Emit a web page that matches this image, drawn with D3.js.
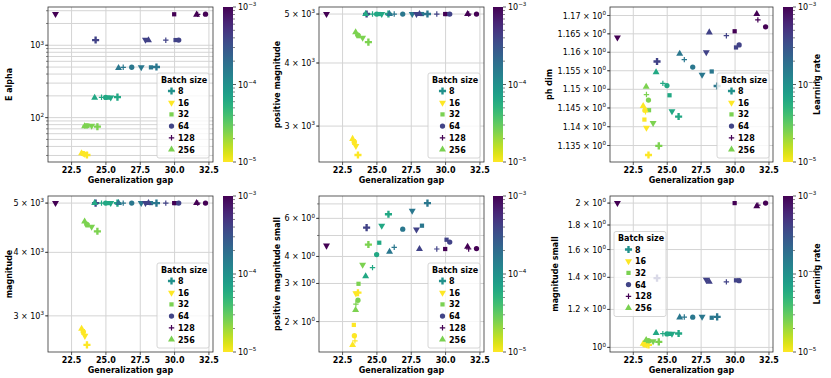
<!DOCTYPE html>
<html>
<head>
<meta charset="utf-8">
<script src="https://cdn.jsdelivr.net/npm/d3@7"></script>
<style>
  body { margin: 0; background: #fff; }
  text { font-family: "DejaVu Sans", sans-serif; font-weight: bold; font-size: 8px; fill: #000; }
  text.math { font-weight: normal; }
</style>
</head>
<body>
<script>
// ---- data (one entry per run, grouped by learning rate, then batch size) ----
var batchSizes = [8, 16, 32, 64, 128, 256];
var learningRates = [1e-5, 2.5e-5, 6.3e-5, 1.6e-4, 4e-4, 1e-3];

var runBatch = [8, 16, 32, 64, 128, 256,
                8, 16, 32, 64, 128, 256,
                8, 16, 32, 64, 128, 256,
                8, 16, 32, 64, 128, 256,
                8, 16, 32, 64, 128, 256,
                   16, 32, 64, 128, 256];
var runLr = [1e-5, 1e-5, 1e-5, 1e-5, 1e-5, 1e-5,
             2.5e-5, 2.5e-5, 2.5e-5, 2.5e-5, 2.5e-5, 2.5e-5,
             6.3e-5, 6.3e-5, 6.3e-5, 6.3e-5, 6.3e-5, 6.3e-5,
             1.6e-4, 1.6e-4, 1.6e-4, 1.6e-4, 1.6e-4, 1.6e-4,
             4e-4, 4e-4, 4e-4, 4e-4, 4e-4, 4e-4,
                   1e-3, 1e-3, 1e-3, 1e-3, 1e-3];
var genGap = [23.62, 23.47, 23.32, 23.36, 23.40, 23.23,
              24.38, 23.96, 23.66, 23.62, 23.47, 23.45,
              25.84, 25.35, 25.17, 24.98, 24.68, 24.18,
              28.68, 27.57, 28.28, 26.88, 26.26, 25.92,
              24.25, 27.88, 30.07, 30.30, 29.36, 28.10,
                     21.33, 29.97, 32.25, 31.68, 31.60];
var eAlpha = [30.5, 31.5, 32, 31.8, 31.2, 32.2,
              75, 77, 77.5, 77, 76.5, 76,
              192, 190, 189, 190, 191, 188,
              500, 498, 495, 497, 496, 485,
              1180, 1190, 1180, 1180, 1175, 1170,
                    2700, 2680, 2690, 2670, 2650];
var positiveMagnitude = [2630, 2740, 2800, 2790, 2760, 2830,
                         4400, 4490, 4520, 4540, 4580, 4600,
                         5000, 5000, 5000, 5000, 5000, 5000,
                         5000, 5000, 5000, 5000, 5000, 5000,
                         5000, 5000, 5000, 5000, 5000, 5000,
                               5000, 5000, 5000, 5000, 5000];
var magnitude = [2630, 2740, 2800, 2790, 2760, 2830,
                 4400, 4490, 4520, 4540, 4580, 4600,
                 5000, 5000, 5000, 5000, 5000, 5000,
                 5000, 5000, 5000, 5000, 5000, 5000,
                 5000, 5000, 5000, 5000, 5000, 5000,
                       5000, 5000, 5000, 5000, 5000];
var phDim = [1.1325, 1.1397, 1.1419, 1.1444, 1.1440, 1.1455,
             1.1349, 1.1410, 1.1444, 1.1471, 1.1486, 1.1507,
             1.1427, 1.1441, 1.1484, 1.1510, 1.1516, 1.1546,
             1.1509, 1.1539, 1.1548, 1.1560, 1.1580, 1.1596,
             1.1575, 1.1600, 1.1613, 1.1620, 1.1645, 1.1654,
                     1.1640, 1.1657, 1.1669, 1.1688, 1.1704];
var positiveMagnitudeSmall = [2.72, 2.70, 1.93, 1.72, 1.63, 1.56,
                              4.54, 3.66, 2.99, 2.51, 2.41, 2.26,
                              6.27, 5.55, 4.63, 4.08, 3.55, 3.24,
                              7.06, 6.50, 5.55, 5.35, 4.41, 4.21,
                              5.44, 5.33, 4.78, 4.66, 4.33, 4.33,
                                    4.49, 4.33, 4.35, 4.33, 4.44];
var magnitudeSmall = [1.012, 1.014, 1.015, 1.012, 1.016, 1.018,
                      1.027, 1.030, 1.031, 1.033, 1.034, 1.036,
                      1.069, 1.068, 1.067, 1.067, 1.068, 1.071,
                      1.158, 1.158, 1.153, 1.156, 1.157, 1.155,
                      1.395, 1.384, 1.380, 1.378, 1.370, 1.370,
                             2.00, 2.00, 2.00, 1.98, 1.97];

// ---- ticks ("a^b" is drawn with b raised) ----
var xTicks = [22.5, 25, 27.5, 30, 32.5];
var eAlphaTicks = [100, 1000];
var eAlphaTickLabels = ["10^2", "10^3"];
var eAlphaGrid = [20, 30, 40, 50, 60, 70, 80, 90, 100, 200, 300, 400, 500, 600, 700, 800, 900, 1000, 2000, 3000];
var magTicks = [3000, 4000, 5000];
var magTickLabels = ["3 × 10^3", "4 × 10^3", "5 × 10^3"];
var phTicks = [1.135, 1.14, 1.145, 1.15, 1.155, 1.16, 1.165, 1.17];
var phTickLabels = ["1.135 × 10^0", "1.14 × 10^0", "1.145 × 10^0", "1.15 × 10^0", "1.155 × 10^0", "1.16 × 10^0", "1.165 × 10^0", "1.17 × 10^0"];
var pmsTicks = [2, 3, 4, 6];
var pmsTickLabels = ["2 × 10^0", "3 × 10^0", "4 × 10^0", "6 × 10^0"];
var pmsGrid = [2, 3, 4, 5, 6, 7];
var msTicks = [1, 1.2, 1.4, 1.6, 1.8, 2];
var msTickLabels = ["10^0", "1.2 × 10^0", "1.4 × 10^0", "1.6 × 10^0", "1.8 × 10^0", "2 × 10^0"];
var cbTicks = [1e-5, 1e-4, 1e-3];
var cbTickLabels = ["10^−5", "10^−4", "10^−3"];
var cbMinor = [2e-5, 3e-5, 4e-5, 5e-5, 6e-5, 7e-5, 8e-5, 9e-5, 2e-4, 3e-4, 4e-4, 5e-4, 6e-4, 7e-4, 8e-4, 9e-4];

// ---- layout ----
var width = 831, height = 378;
var cols = [
  { x0: 48, x1: 213, cb: 223 },
  { x0: 319, x1: 484, cb: 493 },
  { x0: 610, x1: 773, cb: 783 }
];
var rows = [{ y0: 7, y1: 162 }, { y0: 196, y1: 352 }];

var svg = d3.select("body").append("svg")
  .attr("width", width)
  .attr("height", height);

var color = d3.scaleLog().domain([1e-3, 1e-5]).range([0, 1]).clamp(true);
function lrColor(lr) { return d3.interpolateViridis(color(lr)); }

// legend colours of the batch size handles
var legendColors = ["#21918c", "#fde725", "#7ad151", "#414487", "#440154", "#7ad151"];

var plusPath = "M-2.7,0H2.7M0,-2.7V2.7";
function markerPath(bs) {
  if (bs === 8) return d3.symbol(d3.symbolCross, 28)();
  if (bs === 16) return d3.symbol(d3.symbolTriangle, 21)();
  if (bs === 32) return d3.symbol(d3.symbolSquare, 18)();
  if (bs === 64) return d3.symbol(d3.symbolCircle, 22)();
  if (bs === 128) return plusPath;
  return d3.symbol(d3.symbolTriangle, 21)();
}
function drawMarker(g, bs, cx, cy, fill) {
  var p = g.append("path")
    .attr("d", markerPath(bs))
    .attr("transform", "translate(" + cx + "," + cy + ")" + (bs === 16 ? " rotate(180)" : ""));
  if (bs === 128) p.attr("fill", "none").attr("stroke", fill).attr("stroke-width", 1.2);
  else p.attr("fill", fill);
}

// text with an optional raised exponent
function mathText(sel, s) {
  var parts = s.split("^");
  sel.classed("math", true);
  sel.append("tspan").text(parts[0]);
  if (parts.length > 1) {
    sel.append("tspan").attr("dy", -3.6).attr("font-size", "5.6px").text(parts[1]);
  }
  return sel;
}

function logDomain(vals) {
  var e = d3.extent(vals).map(Math.log10);
  var m = (e[1] - e[0]) * 0.05;
  return [Math.pow(10, e[0] - m), Math.pow(10, e[1] + m)];
}
var gx = d3.extent(genGap);
var xm = (gx[1] - gx[0]) * 0.05;
var xDomain = [gx[0] - xm, gx[1] + xm];

var panels = [
  { row: 0, col: 0, values: eAlpha, label: "E alpha", ticks: eAlphaTicks, tickLabels: eAlphaTickLabels, grid: eAlphaGrid, labelX: 9, legend: "lr" },
  { row: 0, col: 1, values: positiveMagnitude, label: "positive magnitude", ticks: magTicks, tickLabels: magTickLabels, grid: magTicks, labelX: 277, legend: "lr" },
  { row: 0, col: 2, values: phDim, label: "ph dim", ticks: phTicks, tickLabels: phTickLabels, grid: phTicks, labelX: 549, legend: "lr" },
  { row: 1, col: 0, values: magnitude, label: "magnitude", ticks: magTicks, tickLabels: magTickLabels, grid: magTicks, labelX: 9, legend: "lr" },
  { row: 1, col: 1, values: positiveMagnitudeSmall, label: "positive magnitude small", ticks: pmsTicks, tickLabels: pmsTickLabels, grid: pmsGrid, labelX: 277, legend: "lr" },
  { row: 1, col: 2, values: magnitudeSmall, label: "magnitude small", ticks: msTicks, tickLabels: msTickLabels, grid: msTicks, labelX: 555, legend: "cl" }
];

// gradient for the colorbars
var defs = svg.append("defs");
var grad = defs.append("linearGradient").attr("id", "viridis")
  .attr("x1", 0).attr("y1", 1).attr("x2", 0).attr("y2", 0);
d3.range(0, 1.0001, 0.05).forEach(function (t) {
  grad.append("stop").attr("offset", t).attr("stop-color", d3.interpolateViridis(1 - t));
});

panels.forEach(function (p) {
  var c = cols[p.col], r = rows[p.row];
  var g = svg.append("g");
  var x = d3.scaleLinear().domain(xDomain).range([c.x0, c.x1]);
  var y = d3.scaleLog().domain(logDomain(p.values)).range([r.y1, r.y0]);
  var gridVals = p.grid.filter(d => y(d) >= r.y0 && y(d) <= r.y1);

  // grid
  g.selectAll(".vg").data(xTicks).enter().append("line")
    .attr("x1", d => x(d)).attr("x2", d => x(d))
    .attr("y1", r.y0).attr("y2", r.y1)
    .attr("stroke", "#d4d4d4").attr("stroke-width", 1);
  g.selectAll(".hg").data(gridVals).enter().append("line")
    .attr("x1", c.x0).attr("x2", c.x1)
    .attr("y1", d => y(d)).attr("y2", d => y(d))
    .attr("stroke", "#d4d4d4").attr("stroke-width", 1);

  // points, one batch size after another
  batchSizes.forEach(function (bs) {
    genGap.forEach(function (gg, i) {
      if (runBatch[i] !== bs) return;
      drawMarker(g, bs, x(gg), y(p.values[i]), lrColor(runLr[i]));
    });
  });

  // frame
  g.append("rect").attr("x", c.x0).attr("y", r.y0)
    .attr("width", c.x1 - c.x0).attr("height", r.y1 - r.y0)
    .attr("fill", "none").attr("stroke", "#333").attr("stroke-width", 0.8);

  // x ticks
  xTicks.forEach(function (t) {
    g.append("line").attr("x1", x(t)).attr("x2", x(t)).attr("y1", r.y1).attr("y2", r.y1 + 3)
      .attr("stroke", "#333").attr("stroke-width", 0.8);
    g.append("text").attr("x", x(t)).attr("y", r.y1 + 10.5).attr("text-anchor", "middle")
      .text(d3.format(".1f")(t));
  });
  g.append("text").attr("x", (c.x0 + c.x1) / 2).attr("y", r.y1 + 21)
    .attr("text-anchor", "middle").text("Generalization gap");

  // y ticks: minor marks on every grid value, labels on the listed ticks
  gridVals.forEach(function (t) {
    g.append("line").attr("x1", c.x0 - 2).attr("x2", c.x0).attr("y1", y(t)).attr("y2", y(t))
      .attr("stroke", "#333").attr("stroke-width", 0.6);
  });
  p.ticks.forEach(function (t, i) {
    g.append("line").attr("x1", c.x0 - 3).attr("x2", c.x0).attr("y1", y(t)).attr("y2", y(t))
      .attr("stroke", "#333").attr("stroke-width", 0.8);
    mathText(g.append("text").attr("x", c.x0 - 4).attr("y", y(t) + 3).attr("text-anchor", "end"),
      p.tickLabels[i]);
  });
  g.append("text")
    .attr("transform", "translate(" + p.labelX + "," + (r.y0 + r.y1) / 2 + ") rotate(-90)")
    .attr("text-anchor", "middle").attr("dy", "0.35em").text(p.label);

  // legend
  var lw = 52, lh = 85;
  var lx = p.legend === "lr" ? c.x1 - 4 - lw : c.x0 + 4;
  var ly = p.legend === "lr" ? r.y1 - 4 - lh : (r.y0 + r.y1) / 2 - lh / 2;
  var lg = g.append("g");
  lg.append("rect").attr("x", lx).attr("y", ly).attr("width", lw).attr("height", lh)
    .attr("rx", 2).attr("fill", "#fff").attr("fill-opacity", 0.8)
    .attr("stroke", "#ccc").attr("stroke-width", 0.8);
  lg.append("text").attr("x", lx + 4).attr("y", ly + 9.5).text("Batch size");
  batchSizes.forEach(function (bs, i) {
    var cy = ly + 18 + i * 11.7;
    drawMarker(lg, bs, lx + 14.5, cy, legendColors[i]);
    lg.append("text").attr("x", lx + 21).attr("y", cy + 3).text(bs);
  });

  // colorbar
  var cy0 = r.y0, cy1 = r.y1;
  var cbScale = d3.scaleLog().domain([1e-5, 1e-3]).range([cy1, cy0]);
  g.append("rect").attr("x", c.cb).attr("y", cy0).attr("width", 10).attr("height", cy1 - cy0)
    .attr("fill", "url(#viridis)");
  cbMinor.forEach(function (t) {
    g.append("line").attr("x1", c.cb + 10).attr("x2", c.cb + 12).attr("y1", cbScale(t)).attr("y2", cbScale(t))
      .attr("stroke", "#333").attr("stroke-width", 0.6);
  });
  cbTicks.forEach(function (t, i) {
    g.append("line").attr("x1", c.cb + 10).attr("x2", c.cb + 13).attr("y1", cbScale(t)).attr("y2", cbScale(t))
      .attr("stroke", "#333").attr("stroke-width", 0.8);
    mathText(g.append("text").attr("x", c.cb + 15).attr("y", cbScale(t) + 3), cbTickLabels[i]);
  });
  if (p.col === 2) {
    g.append("text")
      .attr("transform", "translate(817," + (cy0 + cy1) / 2 + ") rotate(-90)")
      .attr("text-anchor", "middle").attr("dy", "0.35em").text("Learning rate");
  }
});
</script>
</body>
</html>
